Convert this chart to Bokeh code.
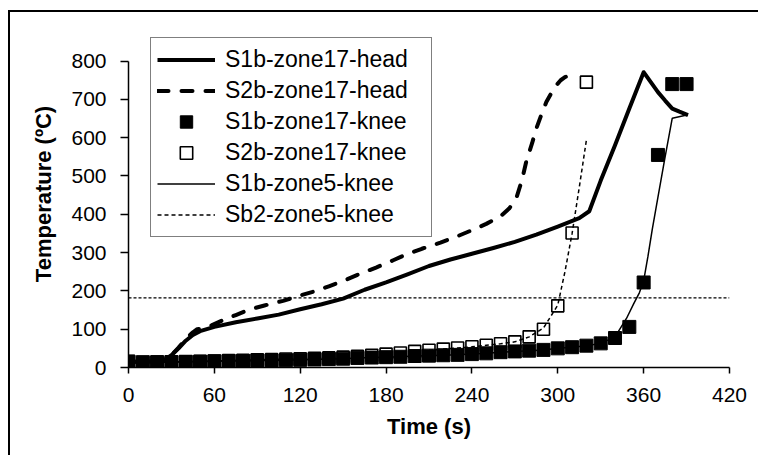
from bokeh.plotting import figure
from bokeh.models import Legend, LegendItem, Span, FixedTicker, Range1d
from bokeh.embed import file_html
from bokeh.resources import INLINE

# ---- data ----
t_head1 = [0, 10, 20, 25, 30, 35, 40, 45, 50, 60, 75, 90, 105, 120, 135, 150, 165, 180, 195,
           210, 225, 240, 255, 270, 285, 300, 315, 322, 330, 340, 350, 360, 365, 370, 375,
           380, 385, 391]
T_head1 = [15, 15, 16, 20, 32, 50, 70, 85, 95, 106, 118, 128, 138, 152, 165, 180, 203, 222, 243,
           265, 282, 297, 312, 328, 347, 368, 390, 408, 488, 580, 676, 771, 745, 719, 697,
           676, 668, 659]

t_head2 = [0, 10, 20, 25, 30, 35, 40, 45, 48, 52, 58, 65, 75, 85, 95, 108, 120, 131, 140, 150,
           160, 173, 185, 194, 205, 218, 230, 241, 250, 260, 266, 271, 275, 278, 282, 285, 289,
           292, 296, 299, 302, 305, 308, 310, 313]
T_head2 = [15, 15, 16, 20, 32, 52, 75, 92, 100, 102, 110, 122, 137, 152, 162, 174, 188, 200, 212,
           226, 242, 261, 280, 295, 310, 326, 343, 360, 375, 395, 415, 442, 490, 538, 585, 624,
           665, 693, 720, 737, 750, 758, 763, 763, 752]

t_knee1 = [0, 10, 20, 30, 40, 50, 60, 70, 80, 90, 100, 110, 120, 130, 140, 150, 160, 170, 180,
           190, 200, 210, 220, 230, 240, 250, 260, 270, 280, 290, 300, 310, 320, 330, 340, 350,
           360, 370, 380, 390]
T_knee1 = [15, 14, 14, 14, 15, 15, 16, 17, 17, 18, 18, 19, 20, 21, 22, 23, 25, 26, 27,
           28, 30, 31, 32, 33, 35, 37, 40, 42, 44, 46, 50, 53, 57, 63, 77, 106,
           222, 555, 740, 740]

t_knee2 = [0, 10, 20, 30, 40, 50, 60, 70, 80, 90, 100, 110, 120, 130, 140, 150, 160, 170, 180,
           190, 200, 210, 220, 230, 240, 250, 260, 270, 280, 290, 300, 310, 320]
T_knee2 = [16, 12, 14, 15, 15, 16, 17, 18, 19, 20, 21, 22, 23, 24, 25, 27, 29, 32, 35,
           38, 42, 45, 48, 51, 54, 58, 62, 67, 80, 100, 161, 351, 745]

t_z5_1 = [0, 10, 20, 30, 40, 50, 60, 70, 80, 90, 100, 110, 120, 130, 140, 150, 160, 170, 180,
          190, 200, 210, 220, 230, 240, 250, 260, 270, 280, 290, 300, 310, 320, 330, 340, 348,
          353, 357, 360, 363, 366, 370, 375, 380, 391]
T_z5_1 = [15, 14, 14, 14, 15, 15, 16, 17, 17, 18, 18, 19, 20, 21, 22, 23, 25, 26, 27,
          28, 30, 31, 32, 33, 35, 37, 40, 42, 44, 46, 50, 53, 57, 63, 80, 128,
          166, 195, 226, 290, 360, 445, 550, 651, 660]

t_z5_2 = [0, 10, 20, 30, 40, 50, 60, 70, 80, 90, 100, 110, 120, 130, 140, 150, 160, 170, 180,
          190, 200, 210, 220, 230, 240, 250, 260, 270, 280, 290, 300, 305, 310, 315, 320]
T_z5_2 = [16, 12, 14, 15, 15, 16, 17, 18, 19, 20, 21, 22, 23, 24, 25, 27, 29, 32, 35,
          38, 42, 45, 48, 51, 54, 58, 62, 67, 80, 103, 163, 250, 350, 470, 594]

threshold = 182

x_ticks = [0, 60, 120, 180, 240, 300, 360, 420]
y_ticks = [0, 100, 200, 300, 400, 500, 600, 700, 800]

labels = ["S1b-zone17-head", "S2b-zone17-head", "S1b-zone17-knee",
          "S2b-zone17-knee", "S1b-zone5-knee", "Sb2-zone5-knee"]

FONT = "Liberation Sans"

p = figure(width=750, height=445, x_range=Range1d(0, 420), y_range=Range1d(0, 906),
           output_backend="svg", toolbar_location=None,
           min_border_left=118, min_border_right=31, min_border_top=8, min_border_bottom=90)
p.margin = (10, 0, 0, 8)
p.styles = {"border-top": "2px solid black", "border-left": "2px solid black"}

p.xgrid.visible = False
p.ygrid.visible = False
p.outline_line_color = None
p.background_fill_color = "white"
p.border_fill_color = "white"

p.add_layout(Span(location=threshold, dimension="width", line_color="black",
                  line_width=1.2, line_dash="3 2"))

r1 = p.line(t_head1, T_head1, line_color="black", line_width=4, line_join="round")
r2 = p.line(t_head2, T_head2, line_color="black", line_width=4, line_dash="11 13",
            line_cap="round", line_join="round")
r4 = p.scatter(t_knee2, T_knee2, marker="square", size=12, fill_color="white",
               line_color="black", line_width=1.6)
r3 = p.scatter(t_knee1, T_knee1, marker="square", size=13, fill_color="black",
               line_color="black")
r5 = p.line(t_z5_1, T_z5_1, line_color="black", line_width=1.5)
r6 = p.line(t_z5_2, T_z5_2, line_color="black", line_width=1.5, line_dash="4 3")

legend = Legend(items=[LegendItem(label=l, renderers=[r]) for l, r in
                       zip(labels, [r1, r2, r3, r4, r5, r6])],
                location=(22, 130))
legend.label_text_font = FONT
legend.label_text_font_size = "23px"
legend.label_text_color = "black"
legend.glyph_width = 58
legend.glyph_height = 31
legend.label_height = 31
legend.label_width = 200
legend.label_standoff = 10
legend.spacing = 0
legend.padding = 6
legend.margin = 0
legend.border_line_color = "black"
legend.border_line_width = 1.5
legend.background_fill_color = "white"
legend.background_fill_alpha = 1
p.add_layout(legend)

for ax in (p.xaxis[0], p.yaxis[0]):
    ax.axis_line_color = "black"
    ax.axis_line_width = 1.5
    ax.major_tick_line_color = "black"
    ax.major_tick_line_width = 1.5
    ax.major_tick_in = 0
    ax.minor_tick_line_color = None
    ax.major_label_text_font = FONT
    ax.major_label_text_font_size = "21px"
    ax.major_label_text_color = "black"
    ax.axis_label_text_font = FONT
    ax.axis_label_text_font_size = "22px"
    ax.axis_label_text_font_style = "bold"
    ax.axis_label_text_color = "black"

p.xaxis.ticker = FixedTicker(ticks=x_ticks)
p.yaxis.ticker = FixedTicker(ticks=y_ticks)
p.xaxis.bounds = (0, 420)
p.yaxis.bounds = (0, 800)
p.xaxis.major_tick_out = 6
p.yaxis.major_tick_out = 8
p.xaxis.major_label_standoff = 14
p.yaxis.major_label_standoff = 14
p.xaxis.axis_label = "Time (s)"
p.yaxis.axis_label = "Temperature (\u00baC)"
p.xaxis.axis_label_standoff = 9
p.yaxis.axis_label_standoff = 12

open("out.html", "w").write(file_html(p, INLINE))
